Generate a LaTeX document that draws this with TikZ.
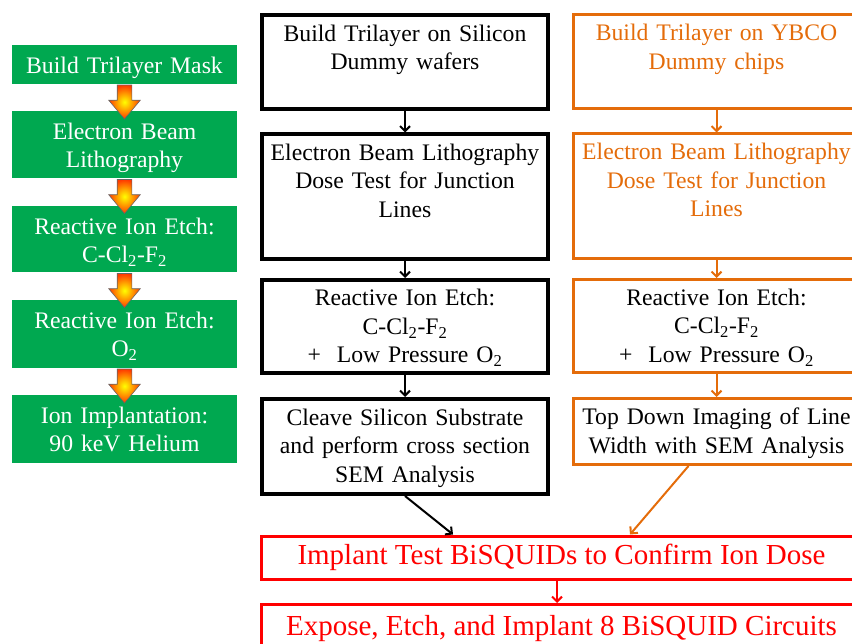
\documentclass[tikz,border=0pt]{standalone}
\usepackage{fontspec}
\setmainfont{Liberation Serif}
\usetikzlibrary{arrows.meta,shapes.arrows,calc}

\definecolor{stepgreen}{RGB}{0,168,80}
\definecolor{floworange}{RGB}{228,108,10}
\definecolor{flowred}{RGB}{255,0,0}

\begin{document}
\begin{tikzpicture}[x=1pt, y=-1pt, font=\fontsize{23.7}{28.5}\selectfont,
    stepbox/.style={fill=stepgreen, text=white, text width=225pt, align=center,
        inner sep=0pt, anchor=north, text height=28pt, text depth=#1-28pt},
    blkbox/.style={draw=black, line width=4pt, text width=286pt, align=center,
        inner sep=0pt, anchor=north, text height=26pt, text depth=#1-26pt},
    orbox/.style={blkbox=#1, draw=floworange, line width=3pt},
    redbox/.style={draw=flowred, line width=3pt, text=flowred, minimum width=600pt,
        minimum height=#1, inner sep=0pt, anchor=north,
        font=\fontsize{29}{34}\selectfont},
    blockarrow/.style={single arrow, rotate=-90, minimum height=34pt,
        inner xsep=0pt, inner ysep=7pt, single arrow head extend=8.5pt,
        single arrow tip angle=80, shading=radial, inner color=yellow,
        outer color=red!55!orange, draw=black!60, line width=0.6pt},
    blkarrow/.style={line width=2pt, -{Straight Barb[length=5pt,width=10pt]}},
    orarrow/.style={blkarrow, draw=floworange},
    redarrow/.style={blkarrow, draw=flowred}]

    \useasboundingbox (0,0) rectangle (852,644);

    % --- MASK STEPS (left column) ---
    \node[stepbox=39pt] (g1) at (124.5,45) {Build Trilayer Mask};
    \node[stepbox=67pt] (g2) at (124.5,111) {Electron Beam\\Lithography};
    \node[stepbox=66pt] (g3) at (124.5,206) {Reactive Ion Etch:\\C-Cl\textsubscript{2}-F\textsubscript{2}};
    \node[stepbox=68pt] (g4) at (124.5,300) {Reactive Ion Etch:\\O\textsubscript{2}};
    \node[stepbox=68pt] (g5) at (124.5,395) {Ion Implantation:\\90 keV Helium};

    % block arrows between the steps
    \node[blockarrow] (a1) at ($(g1.south)!0.5!(g2.north)$) {};
    \node[blockarrow] (a2) at ($(g2.south)!0.5!(g3.north)$) {};
    \node[blockarrow] (a3) at ($(g3.south)!0.5!(g4.north)$) {};
    \node[blockarrow] (a4) at ($(g4.south)!0.5!(g5.north)$) {};

    % --- SILICON TESTS ---
    \node[blkbox=94pt] (b1) at (405,13.5) {Build Trilayer on Silicon\\Dummy wafers};
    \node[blkbox=125pt] (b2) at (405,132.5) {Electron Beam Lithography\\Dose Test for Junction\\Lines};
    \node[blkbox=93pt] (b3) at (405,278) {Reactive Ion Etch:\\C-Cl\textsubscript{2}-F\textsubscript{2}\\+\ \ Low Pressure O\textsubscript{2}};
    \node[blkbox=95pt] (b4) at (405,397) {Cleave Silicon Substrate\\and perform cross section\\SEM Analysis};

    % --- YBCO TESTS ---
    \node[orbox=94pt, text=floworange] (o1) at (716.5,13.5) {Build Trilayer on YBCO\\Dummy chips};
    \node[orbox=125pt, text=floworange] (o2) at (716.5,132.5) {Electron Beam Lithography\\Dose Test for Junction\\Lines};
    \node[orbox=93pt] (o3) at (716.5,278) {Reactive Ion Etch:\\C-Cl\textsubscript{2}-F\textsubscript{2}\\+\ \ Low Pressure O\textsubscript{2}};
    \node[orbox=66pt] (o4) at (716.5,397) {Top Down Imaging of Line\\Width with SEM Analysis};

    % --- BISQUID RUNS ---
    \node[redbox=43.5pt] (r1) at (561.5,534.5) {Implant Test BiSQUIDs to Confirm Ion Dose};
    \node[redbox=48pt] (r2) at (561.5,603) {Expose, Etch, and Implant 8 BiSQUID Circuits};

    % connectors
    \draw[blkarrow] (b1) -- (b2);
    \draw[blkarrow] (b2) -- (b3);
    \draw[blkarrow] (b3) -- (b4);
    \draw[orarrow] (o1) -- (o2);
    \draw[orarrow] (o2) -- (o3);
    \draw[orarrow] (o3) -- (o4);
    \draw[blkarrow] (b4.south) -- ([xshift=-108.5pt]r1.north);
    \draw[orarrow] ([xshift=-28pt]o4.south) -- ([xshift=68.5pt]r1.north);
    \draw[redarrow] ([xshift=-4.5pt]r1.south) -- ([xshift=-4.5pt]r2.north);
\end{tikzpicture}
\end{document}
